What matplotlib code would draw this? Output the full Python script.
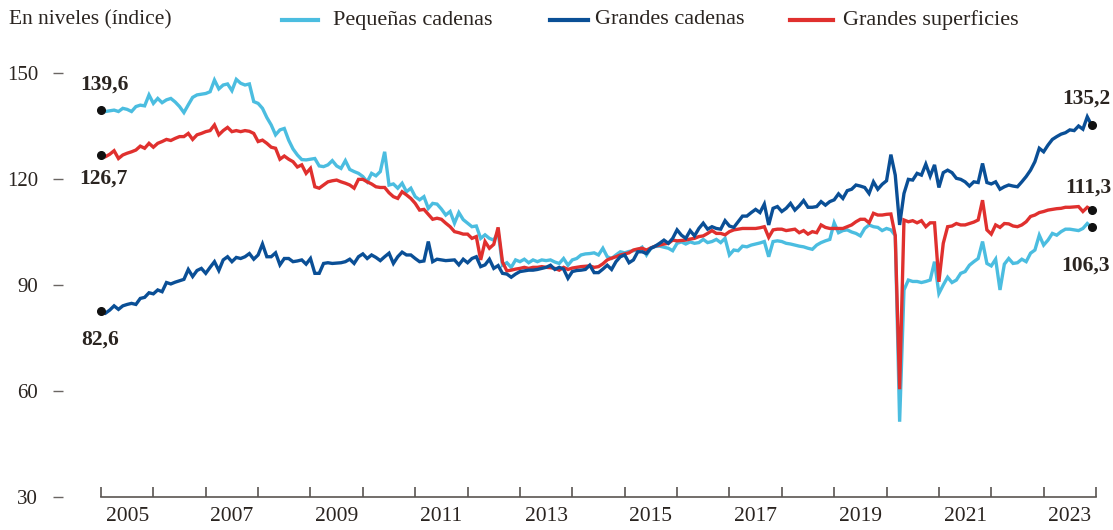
import numpy as np
import matplotlib
matplotlib.use('Agg')
import matplotlib.pyplot as plt
from matplotlib.lines import Line2D

# Monthly index values, Jan 2005 - Dec 2023 (one row per year)
pequenas = [
    139.6, 139.1, 139.3, 139.5, 139.1, 140.0, 139.7, 139.1, 140.5, 140.9, 140.7, 143.8,
    141.4, 142.8, 141.6, 142.4, 142.8, 141.8, 140.5, 138.8, 141.0, 143.1, 143.8, 144.0,
    144.2, 144.7, 148.0, 145.5, 146.6, 146.9, 145.0, 148.2, 147.1, 146.6, 146.9, 141.9,
    141.4, 140.0, 137.4, 135.3, 132.5, 133.9, 134.3, 131.0, 128.5, 126.8, 125.5, 125.4,
    125.6, 125.8, 123.7, 123.5, 124.0, 125.2, 123.7, 123.0, 125.2, 122.7, 122.1, 121.6,
    120.7, 119.2, 121.6, 120.9, 122.1, 127.7, 118.3, 118.6, 117.4, 118.8, 116.4, 117.4,
    115.0, 114.1, 115.0, 111.7, 113.1, 112.9, 111.5, 109.8, 110.8, 107.5, 110.5, 108.5,
    107.5, 106.5, 106.7, 103.2, 104.2, 103.2, 102.7, 105.0, 95.6, 96.3, 95.0, 97.1,
    96.6, 97.3, 96.3, 97.1, 96.6, 97.1, 96.9, 97.1, 96.5, 96.1, 97.5, 95.6,
    97.1, 97.5, 98.5, 98.8, 98.9, 99.1, 98.5, 100.4, 98.0, 97.5, 98.5, 99.4,
    99.1, 99.5, 99.7, 99.9, 100.7, 98.5, 100.4, 100.9, 101.0, 100.7, 100.4, 99.7,
    101.8, 102.2, 101.6, 102.2, 101.8, 102.0, 102.9, 102.0, 102.3, 102.9, 102.0, 103.2,
    98.5, 99.9, 99.7, 101.0, 100.8, 101.3, 101.6, 101.9, 102.3, 98.0, 102.3, 102.5,
    102.3, 101.8, 101.6, 101.3, 101.0, 100.8, 100.4, 100.1, 101.3, 102.0, 102.5, 102.9,
    107.6, 104.8, 105.4, 105.6, 105.0, 104.6, 103.9, 106.0, 107.0, 106.5, 106.3, 105.4,
    106.0, 105.6, 104.0, 51.3, 88.6, 91.4, 91.0, 91.0, 90.7, 91.0, 91.4, 96.6,
    87.6, 90.0, 92.2, 90.7, 91.4, 93.3, 93.8, 95.6, 96.6, 97.5, 102.3, 96.1,
    95.4, 97.3, 88.6, 95.9, 97.5, 96.1, 96.3, 97.3, 96.6, 99.0, 99.9, 104.1,
    101.3, 102.7, 104.6, 104.1, 105.1, 105.8, 105.8, 105.6, 105.4, 106.0, 107.4, 106.3,
]

grandes_cadenas = [
    82.6, 82.0, 82.9, 84.1, 83.1, 84.1, 84.5, 84.8, 84.5, 86.2, 86.5, 87.8,
    87.5, 88.6, 88.1, 90.7, 90.3, 90.8, 91.2, 91.6, 94.4, 92.4, 94.1, 94.7,
    93.3, 95.0, 96.6, 94.1, 97.1, 98.0, 96.6, 97.8, 97.5, 98.0, 98.9, 97.3,
    98.5, 101.6, 98.0, 98.0, 99.1, 95.7, 97.5, 97.5, 96.6, 96.8, 97.1, 95.9,
    97.5, 93.3, 93.3, 96.1, 96.3, 96.1, 96.2, 96.3, 96.6, 97.3, 96.1, 98.0,
    98.8, 97.5, 98.5, 97.8, 96.9, 98.0, 99.0, 96.1, 98.0, 99.3, 98.5, 98.5,
    97.5, 96.6, 96.8, 102.3, 96.6, 97.3, 97.1, 96.9, 97.0, 97.1, 95.7, 97.3,
    96.3, 97.5, 98.0, 95.2, 95.7, 97.3, 94.7, 95.5, 93.3, 93.1, 92.2, 93.1,
    93.8, 94.0, 94.2, 94.2, 94.4, 94.7, 95.0, 95.6, 94.4, 95.0, 94.5, 91.9,
    93.8, 94.1, 94.2, 94.4, 95.6, 93.5, 93.5, 94.5, 95.6, 94.4, 96.6, 98.0,
    98.5, 96.3, 97.1, 99.4, 99.4, 98.9, 100.4, 101.0, 101.8, 102.7, 101.8, 103.2,
    105.6, 104.1, 103.2, 105.4, 103.9, 106.0, 107.5, 105.8, 106.5, 106.0, 105.8, 108.2,
    106.7, 106.3, 107.9, 109.5, 109.5, 110.5, 111.4, 110.5, 112.9, 107.0, 111.7, 112.2,
    110.8, 111.7, 113.1, 111.2, 112.4, 113.9, 112.0, 112.0, 112.2, 113.6, 112.6, 113.6,
    114.1, 115.8, 114.5, 116.7, 117.1, 118.3, 118.0, 117.6, 115.9, 119.2, 117.1, 118.5,
    119.5, 126.9, 121.1, 107.0, 115.9, 119.9, 119.7, 121.6, 121.1, 124.2, 120.8, 124.0,
    117.6, 121.8, 122.5, 121.8, 120.2, 119.9, 119.2, 118.0, 119.2, 119.0, 124.4, 119.0,
    118.6, 119.2, 117.1, 117.8, 118.3, 118.0, 117.8, 119.2, 120.7, 122.5, 124.9, 128.7,
    127.7, 129.6, 131.2, 132.0, 132.7, 133.1, 133.9, 133.7, 135.0, 134.1, 137.6, 135.2,
]

grandes_superficies = [
    126.7, 126.3, 127.0, 128.0, 125.8, 126.8, 127.3, 127.7, 128.2, 129.3, 128.7, 130.1,
    129.0, 130.1, 130.6, 131.2, 130.9, 131.5, 132.0, 132.0, 132.9, 131.2, 132.5, 132.9,
    133.4, 133.7, 135.3, 132.5, 133.7, 134.6, 133.4, 133.7, 133.4, 133.7, 133.5, 132.9,
    130.6, 131.0, 130.1, 129.0, 128.7, 125.6, 126.5, 125.6, 124.9, 123.4, 124.0, 121.6,
    123.0, 117.8, 117.4, 118.3, 119.2, 119.5, 119.7, 119.2, 118.8, 118.3, 117.4, 119.9,
    119.9, 119.2, 118.6, 117.8, 117.6, 117.6, 116.1, 115.0, 114.5, 116.4, 115.5, 114.5,
    113.1, 111.2, 111.4, 110.0, 108.6, 108.9, 108.6, 107.5, 106.5, 105.1, 104.8, 104.4,
    104.4, 103.2, 103.7, 97.1, 102.3, 100.4, 101.5, 106.3, 96.5, 94.0, 94.2, 94.5,
    94.7, 95.0, 94.7, 95.0, 95.0, 95.2, 95.0, 94.9, 94.7, 94.2, 95.0, 94.4,
    94.8, 95.0, 95.2, 95.3, 95.4, 95.0, 95.2, 96.0, 97.1, 97.6, 98.0, 98.5,
    98.8, 99.1, 99.9, 100.2, 100.4, 99.9, 100.5, 101.0, 101.3, 101.6, 101.8, 102.7,
    102.5, 102.6, 102.7, 103.0, 103.2, 103.7, 103.9, 104.6, 105.4, 104.6, 104.6, 104.2,
    105.1, 105.6, 105.8, 106.0, 106.0, 106.0, 106.0, 106.2, 106.5, 103.5, 105.6, 105.8,
    105.8, 105.4, 105.6, 105.8, 104.8, 105.4, 104.4, 105.1, 104.8, 107.0, 106.3, 106.0,
    106.0, 106.0, 106.0, 106.5, 107.0, 107.9, 108.6, 108.6, 107.6, 110.3, 109.8, 109.8,
    110.0, 110.1, 104.0, 60.5, 108.4, 107.9, 108.2, 107.6, 108.2, 106.5, 107.6, 107.6,
    90.9, 101.8, 106.5, 106.7, 107.4, 107.0, 107.0, 107.4, 107.8, 108.4, 114.0, 105.6,
    104.4, 107.0, 106.3, 107.4, 107.3, 106.7, 106.5, 107.0, 107.9, 109.4, 109.8, 110.5,
    110.8, 111.2, 111.4, 111.6, 111.7, 112.0, 112.0, 112.1, 112.2, 110.8, 112.0, 111.3,
]

series_names = ['Pequeñas cadenas', 'Grandes cadenas', 'Grandes superficies']
y_ticks = [30, 60, 90, 120, 150]
year_labels = list(range(2005, 2024, 2))

LIGHT = '#4bbde0'
DARK = '#0a4f96'
RED = '#e0302e'
TEXT = '#2a2420'
FONT = 'Liberation Serif'

W, H = 1113, 530
fig = plt.figure(figsize=(W / 100, H / 100), dpi=100)

# pixel geometry: 2005 -> x=101, 2024 -> x=1096 ; 30 -> y=497, 150 -> y=73
px_year = (1096 - 101) / 19
px_unit = (497 - 73) / 120
left_px, right_px, bottom_px = 63, 1110, 497
ylim = (30, 155)
top_px = bottom_px - (ylim[1] - ylim[0]) * px_unit
ax = fig.add_axes([left_px / W, 1 - bottom_px / H,
                   (right_px - left_px) / W, (bottom_px - top_px) / H])
ax.set_xlim(2005 - (101 - left_px) / px_year, 2024 + (right_px - 1096) / px_year)
ax.set_ylim(*ylim)


def months(values):
    return 2005 + np.arange(len(values)) / 12


for vals, col in [(pequenas, LIGHT), (grandes_superficies, RED), (grandes_cadenas, DARK)]:
    x = months(vals)
    ax.plot(x, vals, color=col, lw=2.4, solid_joinstyle='miter', zorder=3)
    ax.plot([x[0], x[-1]], [vals[0], vals[-1]], 'o', color='#111111', ms=5.5,
            zorder=6, clip_on=False)


def label(x, y, dx, dy):
    ax.annotate('{:.1f}'.format(y).replace('.', ','), xy=(x, y), xytext=(dx, dy),
                textcoords='offset pixels', ha='center', va='center',
                fontsize=15.5, fontweight='bold', color=TEXT, family=FONT)


x0 = 2005
x1 = months(pequenas)[-1]
label(x0, pequenas[0], 3, 25)
label(x0, grandes_superficies[0], 2, -23)
label(x0, grandes_cadenas[0], -1, -28)
label(x1, grandes_cadenas[-1], -5, 27)
label(x1, grandes_superficies[-1], -3, 22)
label(x1, pequenas[-1], -6, -38)

# axes styling
for side in ['left', 'top', 'right']:
    ax.spines[side].set_visible(False)
ax.spines['bottom'].set_bounds(2005, 2024)
ax.spines['bottom'].set_color('#5a5552')
ax.spines['bottom'].set_linewidth(1.2)

ax.set_yticks(y_ticks)
ax.set_yticklabels([str(v) for v in y_ticks])
ax.tick_params(axis='y', direction='out', length=7, width=1, color='#6a6562',
               pad=11, labelsize=15, labelcolor=TEXT)

ax.set_xticks(list(range(2005, 2025)))
ax.set_xticklabels([])
ax.tick_params(axis='x', which='major', direction='in', length=7.5, width=1.2,
               color='#5a5552')
ax.set_xticks([y + 0.5 for y in year_labels], minor=True)
ax.set_xticklabels([str(y) for y in year_labels], minor=True)
ax.tick_params(axis='x', which='minor', length=0, pad=7, labelsize=15.5,
               labelcolor=TEXT)
for lab in ax.get_xticklabels(minor=True) + ax.get_yticklabels():
    lab.set_family(FONT)


# header / legend
def fx(px):
    return px / W


def fy(py):
    return 1 - py / H


fig.text(fx(9), fy(20), 'En niveles (índice)', ha='left', va='center',
         fontsize=15.5, color=TEXT, family=FONT)
legend_items = [(282, 318, 333, LIGHT), (550, 588, 595, DARK), (790, 833, 843, RED)]
for (l0, l1, tx, col), name in zip(legend_items, series_names):
    fig.add_artist(Line2D([fx(l0), fx(l1)], [fy(20), fy(20)], color=col, lw=3,
                          transform=fig.transFigure))
    fig.text(fx(tx), fy(20), name, ha='left', va='center', fontsize=16,
             color=TEXT, family=FONT)

fig.savefig('out.png', dpi=100, facecolor='white')
